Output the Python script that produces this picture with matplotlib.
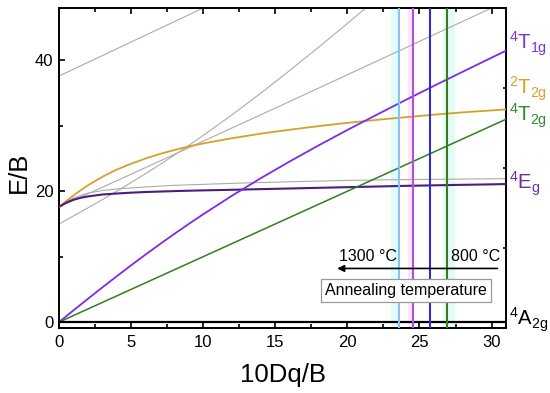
import matplotlib
matplotlib.use("Agg")
import matplotlib.pyplot as plt
import matplotlib.transforms as mtransforms

plt.rcParams['font.family'] = ['Liberation Sans', 'DejaVu Sans']
plt.rcParams['mathtext.fontset'] = 'custom'
plt.rcParams['mathtext.rm'] = 'Liberation Sans'

# ---- data ----
x_grid = [0, 0.5, 1, 1.5, 2, 3, 4, 5, 6, 7, 8, 9, 10, 12, 14, 16, 18, 20, 22, 24, 26, 28, 30, 31]
e_4T1g = [0, 0.90, 1.79, 2.67, 3.55, 5.29, 7.00, 8.68, 10.32, 11.92, 13.48, 15.00, 16.48,
          19.32, 22.00, 24.55, 27.00, 29.36, 31.65, 33.90, 36.10, 38.26, 40.41, 41.47]
e_2T2g = [17.6, 18.5, 19.35, 20.15, 20.9, 22.2, 23.3, 24.2, 25.0, 25.7, 26.3, 26.85, 27.3,
          28.1, 28.8, 29.4, 29.95, 30.45, 30.9, 31.3, 31.7, 32.05, 32.35, 32.5]
e_Eg = [17.6, 18.25, 18.7, 19.0, 19.2, 19.5, 19.65, 19.78, 19.88, 19.95, 20.02, 20.08, 20.13,
        20.22, 20.32, 20.42, 20.52, 20.62, 20.72, 20.82, 20.9, 20.98, 21.05, 21.1]
e_2T1g = [17.6, 18.4, 18.95, 19.35, 19.7, 20.1, 20.35, 20.5, 20.65, 20.78, 20.9, 20.98, 21.05,
          21.2, 21.33, 21.45, 21.55, 21.65, 21.72, 21.78, 21.82, 21.86, 21.9, 21.92]
x_4T1gP = [0, 0.5, 1, 1.5, 2, 3, 4, 5, 6, 7, 8, 9, 10, 12, 14, 16, 18, 20, 22]
e_4T1gP = [15.0, 15.6, 16.21, 16.83, 17.45, 18.71, 20.0, 21.32, 22.68, 24.08, 25.52, 27.0,
           28.52, 31.68, 35.0, 38.45, 42.0, 45.64, 49.35]
x_4T2g = [0, 31]
e_4T2g = [0, 31]
x_4A2g = [0, 31]
e_4A2g = [0, 0]
x_2A1g = [0, 5, 10, 15, 20, 25, 30, 31]
e_2A1g = [17.6, 22.6, 27.65, 32.7, 37.8, 42.9, 48.0, 49.0]
x_upper = [0, 5, 10, 11]
e_upper = [37.6, 42.8, 48.0, 49.0]

vlines_x = [23.56, 24.55, 25.71, 26.91]
vlines_c = ['#86c3f0', '#b04fe0', '#2f2fc8', '#3f7a1a']
bands = [(23.05, 23.6, '#e2fbfb'), (24.17, 24.6, '#fde6f6'), (26.63, 27.49, '#e2fbf4')]

labels = [r'$\mathregular{^4T_{1g}}$', r'$\mathregular{^2T_{2g}}$', r'$\mathregular{^4T_{2g}}$',
          r'$\mathregular{^4E_{g}}$', r'$\mathregular{^4A_{2g}}$']
label_y = [42.5, 35.6, 31.6, 21.1, 0.3]
label_c = ['#7b2fe8', '#d9a21f', '#2f8a2a', '#6a2c9a', '#000000']

# ---- figure ----
fig = plt.figure(figsize=(5.5, 3.93), dpi=100)
ax = fig.add_axes([59/550, 1-328/393, 447/550, 320/393])

for x0, x1, c in bands:
    ax.axvspan(x0, x1, color=c, lw=0, zorder=1)

gray = '#ababab'
ax.plot(x_4T1gP, e_4T1gP, color=gray, lw=0.8, zorder=2)
ax.plot(x_2A1g, e_2A1g, color=gray, lw=0.8, zorder=2)
ax.plot(x_upper, e_upper, color=gray, lw=0.8, zorder=2)
ax.plot(x_grid, e_2T1g, color=gray, lw=0.8, zorder=2)
ax.plot(x_grid, e_2T2g, color='#d4a22a', lw=1.3, zorder=3)
ax.plot(x_grid, e_Eg, color='#4b1f78', lw=1.5, zorder=3)
ax.plot(x_grid, e_4T1g, color='#7b2be8', lw=1.3, zorder=3)
ax.plot(x_4T2g, e_4T2g, color='#2f7f1f', lw=1.1, zorder=3)
ax.plot(x_4A2g, e_4A2g, color='black', lw=1.6, zorder=4)

for xv, c in zip(vlines_x, vlines_c):
    ax.axvline(xv, color=c, lw=1.5, zorder=5)

ax.set_xlim(0, 31)
ax.set_ylim(-0.9, 48)
ax.set_xticks([0, 5, 10, 15, 20, 25, 30])
ax.set_xticks([2.5, 7.5, 12.5, 17.5, 22.5, 27.5], minor=True)
ax.set_yticks([0, 20, 40])
ax.set_yticks([10, 30], minor=True)
ax.tick_params(which='both', direction='in', top=True, right=False, width=1.2, labelsize=12)
ax.tick_params(which='major', length=4.5)
ax.tick_params(which='minor', length=2.8)
ax.tick_params(axis='x', pad=5)
ax.tick_params(axis='y', pad=4)
for s in ax.spines.values():
    s.set_linewidth(1.4)

ax2 = ax.twinx()
ax2.set_ylim(0, 1)
ax2.set_yticks([0.25, 0.5, 0.75])
ax2.tick_params(direction='in', length=2.5, width=1.2, labelright=False)
for s in ax2.spines.values():
    s.set_visible(False)

trans = mtransforms.blended_transform_factory(ax.transAxes, ax.transData)
for t, yv, c in zip(labels, label_y, label_c):
    ax.text(1.007, yv, t, transform=trans, color=c, fontsize=14.5, ha='left', va='center', clip_on=False)

ax.annotate('', xy=(19.1, 8.2), xytext=(30.6, 8.2),
            arrowprops=dict(arrowstyle='-|>', color='black', lw=1.2, mutation_scale=10), zorder=6)
ax.text(21.4, 10.1, '1300 °C', fontsize=11.5, ha='center', va='center', zorder=6)
ax.text(28.9, 10.1, '800 °C', fontsize=11.5, ha='center', va='center', zorder=6)
ax.text(24.05, 4.8, 'Annealing temperature', fontsize=11.5, ha='center', va='center', zorder=7,
        bbox=dict(boxstyle='square,pad=0.25', fc='white', ec='#999999', lw=0.9))

fig.text(282.5/550, 11/393, '10Dq/B', fontsize=18.5, ha='center', va='baseline')
fig.text(19/550, 1-172/393, 'E/B', fontsize=18.5, ha='center', va='center', rotation=90)

fig.savefig('out.png', dpi=100)
